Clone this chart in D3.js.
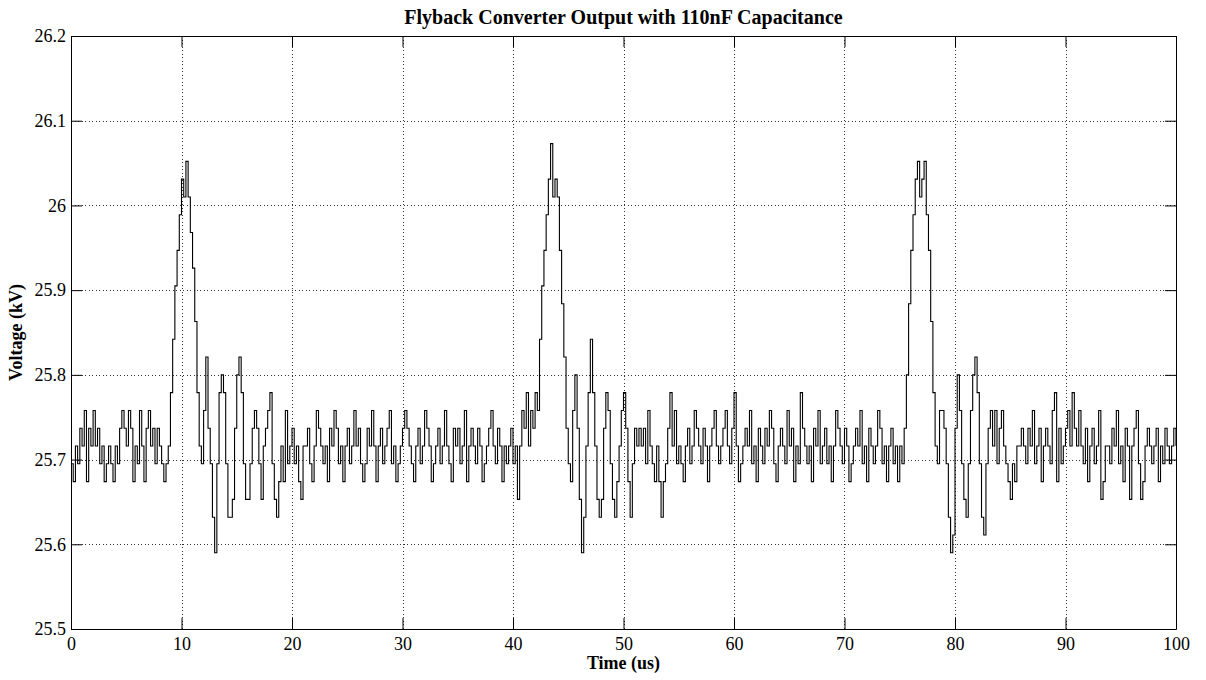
<!DOCTYPE html>
<html>
<head>
<meta charset="utf-8">
<script src="https://cdn.jsdelivr.net/npm/d3@7"></script>
<style>
  html, body { margin: 0; padding: 0; background: #fff; }
  svg { display: block; }
</style>
</head>
<body>
<svg id="chart" width="1206" height="680"></svg>
<script>
// ---- Data ----
const chartTitle = "Flyback Converter Output with 110nF Capacitance";
const xLabel = "Time (us)";
const yLabel = "Voltage (kV)";
const timeStart = 0;      // us
const timeEnd = 100;      // us
const xTicks = [0, 10, 20, 30, 40, 50, 60, 70, 80, 90, 100];
const xTickLabels = ["0", "10", "20", "30", "40", "50", "60", "70", "80", "90", "100"];
const yTicks = [25.5, 25.6, 25.7, 25.8, 25.9, 26.0, 26.1, 26.2];
const yTickLabels = ["25.5", "25.6", "25.7", "25.8", "25.9", "26", "26.1", "26.2"];

// output voltage samples (kV), evenly spaced over 0..100 us
const voltage = [
25.695,25.674,25.716,25.695,25.737,25.716,25.758,25.674,25.737,25.716,
25.758,25.716,25.737,25.695,25.716,25.674,25.695,25.716,25.695,25.674,
25.716,25.695,25.737,25.758,25.737,25.716,25.758,25.737,25.674,25.716,
25.695,25.758,25.716,25.674,25.737,25.758,25.716,25.737,25.695,25.737,
25.716,25.695,25.674,25.695,
25.716,25.779,25.842,25.905,25.947,25.989,26.031,26.010,26.052,26.010,
25.968,25.926,25.863,25.779,25.716,25.695,25.758,25.821,25.737,25.695,
25.632,25.590,25.695,25.779,25.800,25.779,25.695,25.632,25.632,25.653,
25.737,25.800,25.821,25.779,25.695,25.653,25.653,25.695,25.737,25.758,
25.737,25.695,25.653,25.716,25.737,25.758,25.779,25.695,25.653,25.632,
25.674,25.716,25.674,25.758,25.695,25.716,25.737,25.695,25.716,25.674,
25.653,25.716,
25.716,25.737,25.695,25.674,25.716,25.758,25.737,25.716,25.695,25.716,25.674,25.737,25.716,25.758,25.737,25.695,25.716,25.674,25.716,25.737,
25.695,25.716,25.758,25.716,25.737,25.695,25.674,25.695,25.737,25.716,25.758,25.716,25.674,25.716,25.737,25.695,25.716,25.737,25.758,25.695,
25.716,25.674,25.695,25.716,25.737,25.758,25.737,25.716,25.695,25.674,25.716,25.737,25.695,25.716,25.758,25.737,25.716,25.674,25.695,25.716,
25.737,25.695,25.716,25.758,25.716,25.695,25.674,25.737,25.716,25.737,25.695,25.716,25.758,25.674,25.716,25.737,25.716,25.695,25.737,25.716,
25.674,25.695,25.716,25.737,25.758,25.716,25.695,25.737,25.716,25.674,25.716,25.695,25.716,25.737,25.695,25.716,
25.653,25.716,25.758,25.737,25.779,25.716,25.758,25.737,25.779,25.758,
25.842,25.905,25.947,25.989,26.031,26.073,26.010,26.031,26.010,25.947,
25.884,25.821,25.737,25.695,25.674,25.758,25.800,25.737,25.653,25.590,
25.632,25.716,25.779,25.842,25.779,25.716,25.653,25.632,25.653,25.737,
25.779,25.758,25.695,25.653,25.632,25.674,25.716,25.758,25.779,25.737,
25.674,25.632,25.695,25.737,25.716,25.737,25.716,25.737,25.695,25.758,
25.716,25.695,25.674,25.716,25.674,25.632,25.674,25.695,25.737,25.779,
25.716,25.758,25.695,
25.716,25.695,25.674,25.716,25.737,25.695,25.716,25.758,25.737,25.716,25.695,25.737,25.716,25.674,25.716,25.737,25.758,25.716,25.695,25.716,
25.737,25.758,25.716,25.695,25.737,25.779,25.716,25.674,25.695,25.716,25.737,25.716,25.758,25.695,25.716,25.674,25.737,25.716,25.695,25.737,
25.716,25.758,25.737,25.695,25.674,25.716,25.737,25.716,25.695,25.758,25.716,25.737,25.674,25.716,25.695,25.779,25.737,25.716,25.695,25.716,
25.674,25.737,25.716,25.758,25.695,25.716,25.737,25.695,25.716,25.674,25.716,25.758,25.737,25.716,25.695,25.737,25.716,25.674,25.695,25.716,
25.737,25.716,25.758,25.695,25.716,25.674,25.737,25.716,25.695,25.716,25.758,25.737,25.695,25.716,25.674,25.716,25.737,25.695,25.716,25.674,25.716,25.695,
25.737,25.800,25.884,25.947,25.989,26.031,26.052,26.010,26.031,26.052,
25.989,25.947,25.863,25.779,25.716,25.695,25.758,25.758,25.737,25.695,
25.632,25.590,25.611,25.737,25.800,25.758,25.695,25.653,25.632,25.695,
25.758,25.800,25.821,25.779,25.695,25.632,25.611,25.695,25.737,25.758,
25.716,25.758,25.695,25.737,25.758,25.716,25.695,25.674,25.653,25.695,
25.674,25.716,
25.716,25.737,25.716,25.695,25.737,25.716,25.758,25.695,25.716,25.737,25.674,25.716,25.737,25.716,25.695,25.758,25.779,25.674,25.737,25.695,
25.716,25.737,25.758,25.716,25.779,25.737,25.716,25.758,25.716,25.695,25.737,25.674,25.716,25.737,25.695,25.716,25.758,25.653,25.674,25.716,
25.716,25.695,25.737,25.716,25.758,25.695,25.716,25.674,25.737,25.716,25.653,25.716,25.737,25.758,25.695,25.653,25.674,25.716,25.737,25.716,
25.695,25.716,25.737,25.674,25.716,25.695,25.737,25.716,25.695,25.716,25.737,25.716
];

// ---- Layout ----
const W = 1206, H = 680;
const plot = { left: 71, top: 36, right: 1176, bottom: 629 };

const svg = d3.select("#chart");
svg.append("rect").attr("width", W).attr("height", H).attr("fill", "#fff");

const x = d3.scaleLinear().domain([timeStart, timeEnd]).range([plot.left, plot.right]);
const y = d3.scaleLinear().domain([25.5, 26.2]).range([plot.bottom, plot.top]);

const serif = "'Liberation Serif', 'Times New Roman', Times, serif";
const n = voltage.length;
const step = (timeEnd - timeStart) / (n - 1);
const samples = voltage.map((v, i) => ({ t: timeStart + i * step, v }));

// grid
const grid = svg.append("g").attr("stroke", "#333").attr("stroke-width", 1)
  .attr("stroke-dasharray", "1,2.5").attr("shape-rendering", "crispEdges");
grid.selectAll("line.gx").data(xTicks.slice(1, -1)).enter().append("line")
  .attr("x1", d => Math.round(x(d)) + 0.5).attr("x2", d => Math.round(x(d)) + 0.5)
  .attr("y1", plot.top).attr("y2", plot.bottom);
grid.selectAll("line.gy").data(yTicks.slice(1, -1)).enter().append("line")
  .attr("y1", d => Math.round(y(d)) + 0.5).attr("y2", d => Math.round(y(d)) + 0.5)
  .attr("x1", plot.left).attr("x2", plot.right);

// signal
const line = d3.line().x(d => x(d.t)).y(d => y(d.v)).curve(d3.curveStepAfter);
svg.append("path").datum(samples)
  .attr("d", line).attr("fill", "none").attr("stroke", "#000").attr("stroke-width", 1.1);

// axes (ticks inward, box on all sides)
const tickLen = 11;
const axisFont = g => {
  g.attr("font-family", null).attr("font-size", null);
  g.selectAll("text").style("font-family", serif).style("font-size", "18px").attr("fill", "#000");
};

const xAxisB = d3.axisBottom(x).tickValues(xTicks).tickFormat((d, i) => xTickLabels[i])
  .tickSizeInner(-tickLen).tickSizeOuter(0).tickPadding(8);
svg.append("g").attr("transform", `translate(0,${plot.bottom})`).call(xAxisB).call(axisFont);

const xAxisT = d3.axisTop(x).tickValues(xTicks).tickFormat("").tickSizeInner(-tickLen).tickSizeOuter(0);
svg.append("g").attr("transform", `translate(0,${plot.top})`).call(xAxisT);

const yAxisL = d3.axisLeft(y).tickValues(yTicks).tickFormat((d, i) => yTickLabels[i])
  .tickSizeInner(-tickLen).tickSizeOuter(0).tickPadding(5);
svg.append("g").attr("transform", `translate(${plot.left},0)`).call(yAxisL).call(axisFont);

const yAxisR = d3.axisRight(y).tickValues(yTicks).tickFormat("").tickSizeInner(-tickLen).tickSizeOuter(0);
svg.append("g").attr("transform", `translate(${plot.right},0)`).call(yAxisR);

svg.selectAll(".domain").attr("stroke", "#000");
svg.selectAll(".tick line").attr("stroke", "#000");

// titles
svg.append("text").attr("x", (plot.left + plot.right) / 2).attr("y", 24)
  .attr("text-anchor", "middle").style("font-family", serif).style("font-weight", "bold")
  .style("font-size", "20px").text(chartTitle);
svg.append("text").attr("x", (plot.left + plot.right) / 2).attr("y", 669)
  .attr("text-anchor", "middle").style("font-family", serif).style("font-weight", "bold")
  .style("font-size", "18px").text(xLabel);
svg.append("text").attr("transform", `translate(22,${(plot.top + plot.bottom) / 2}) rotate(-90)`)
  .attr("text-anchor", "middle").style("font-family", serif).style("font-weight", "bold")
  .style("font-size", "18px").text(yLabel);
</script>
</body>
</html>
